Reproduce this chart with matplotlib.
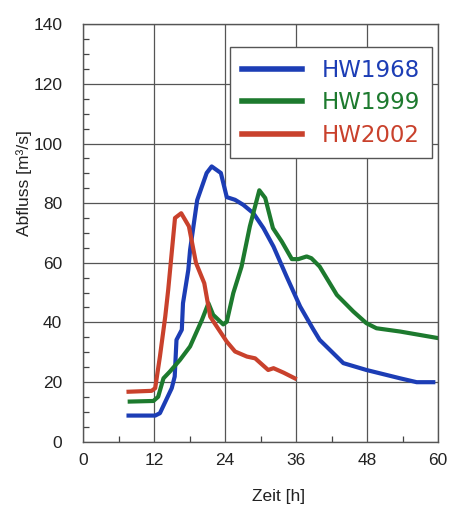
import matplotlib
matplotlib.use("Agg")
import matplotlib.pyplot as plt
from matplotlib.ticker import MultipleLocator

plt.rcParams['font.family'] = ['Liberation Sans', 'DejaVu Sans']

# HW1968
t1968 = [7.7, 12.2, 13.0, 15.0, 15.5, 15.8, 16.7, 16.9, 17.8, 18.1, 19.3, 20.9, 21.75, 23.3, 24.3, 25.7, 27.1, 28.8, 30.5, 32.2, 34.4, 36.7, 38.9, 40.0, 44.0, 47.9, 53.6, 56.4, 59.2]
q1968 = [8.7, 8.7, 9.5, 17.9, 21.8, 34.1, 37.5, 46.4, 57.6, 64.3, 81.0, 90.1, 92.3, 90.1, 82.0, 81.1, 79.4, 76.6, 71.6, 65.4, 55.4, 45.3, 37.7, 34.1, 26.3, 24.0, 21.2, 19.9, 19.9]
# HW1999
t1999 = [7.9, 11.9, 12.7, 13.6, 14.7, 16.4, 18.1, 20.1, 21.2, 22.0, 23.7, 24.3, 25.4, 26.8, 28.2, 29.8, 30.8, 32.1, 33.6, 35.3, 36.4, 37.8, 38.6, 40.0, 42.9, 45.7, 47.9, 49.6, 53.6, 60.0]
q1999 = [13.4, 13.6, 15.0, 21.2, 23.5, 27.4, 31.9, 40.8, 46.4, 42.5, 39.3, 40.2, 49.8, 58.7, 72.2, 84.3, 81.7, 71.6, 67.1, 61.2, 61.2, 62.1, 61.5, 58.7, 49.2, 43.6, 39.7, 38.0, 36.9, 34.7]
# HW2002
t2002 = [7.7, 11.6, 12.2, 13.0, 13.9, 14.4, 15.55, 16.6, 17.9, 19.1, 20.5, 21.5, 24.3, 25.7, 27.7, 29.1, 31.3, 32.2, 33.9, 35.8]
q2002 = [16.7, 17.0, 17.9, 28.5, 41.9, 50.9, 75.0, 76.6, 72.2, 59.9, 53.1, 41.9, 33.5, 30.2, 28.5, 27.9, 24.0, 24.6, 23.1, 21.2]

labels = ['HW1968', 'HW1999', 'HW2002']
colors = ['#1c3db5', '#1d7a2e', '#c9412c']
x_ticks = [0, 12, 24, 36, 48, 60]
y_ticks = [0, 20, 40, 60, 80, 100, 120, 140]

fig = plt.figure(figsize=(4.51, 5.05), dpi=100)
ax = fig.add_axes([83/451, 1-441.5/505, (438-83)/451, (441.5-24.3)/505])

for t, q, lab, c in zip([t1968, t1999, t2002], [q1968, q1999, q2002], labels, colors):
    ax.plot(t, q, color=c, lw=3.0, label=lab)

ax.set_xlim(0, 60)
ax.set_ylim(0, 140)
ax.set_xticks(x_ticks)
ax.set_yticks(y_ticks)
ax.xaxis.set_minor_locator(MultipleLocator(6))
ax.yaxis.set_minor_locator(MultipleLocator(5))
ax.grid(True, which='major', color='#555555', lw=0.9)
ax.tick_params(which='both', direction='in', colors='#444444', labelcolor='#222222')
ax.tick_params(which='major', length=0, labelsize=12.5)
ax.tick_params(axis='x', which='major', pad=8)
ax.tick_params(axis='y', which='major', pad=15)
ax.tick_params(which='minor', length=4, width=0.9)
for s in ax.spines.values():
    s.set_color('#555555')
    s.set_linewidth(1.0)

ax.set_xlabel('Zeit [h]', fontsize=12.5, color='#222222')
ax.xaxis.set_label_coords(0.55, -0.115)
ax.set_ylabel('Abfluss [m³/s]', fontsize=12.5, color='#222222')
ax.yaxis.set_label_coords(-0.143, 0.62)

leg = ax.legend(loc='upper right', bbox_to_anchor=(0.983, 0.945), frameon=True,
                fancybox=False, edgecolor='#555555', framealpha=1,
                handlelength=2.6, handletextpad=0.9, borderpad=0.5,
                labelspacing=0.42, borderaxespad=0.0,
                prop={'family': ['DejaVu Sans'], 'size': 16.5})
leg.get_frame().set_linewidth(1.0)
for txt, c in zip(leg.get_texts(), colors):
    txt.set_color(c)
for line in leg.get_lines():
    line.set_linewidth(4.0)

fig.savefig('out.png', dpi=100)
